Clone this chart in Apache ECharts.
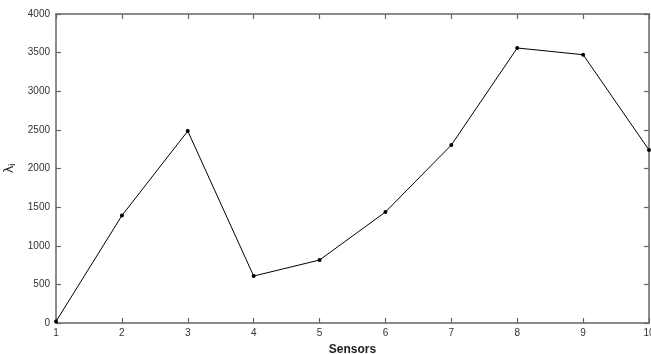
<!DOCTYPE html>
<html>
<head>
<meta charset="utf-8">
<script src="https://cdn.jsdelivr.net/npm/echarts@6/dist/echarts.min.js"></script>
<style>
html,body{margin:0;padding:0;background:#fff;}
#main{width:651px;height:354px;}
</style>
</head>
<body>
<div id="main"></div>
<script>
var sensors = [1, 2, 3, 4, 5, 6, 7, 8, 9, 10];
var lambdaVals = [20, 1390, 2485, 608, 815, 1437, 2304, 3560, 3473, 2240];

var points = [];
for (var i = 0; i < sensors.length; i++) {
    points.push([sensors[i], lambdaVals[i]]);
}

var myChart = echarts.init(document.getElementById('main'));

var axisLine = {show: true, onZero: false, lineStyle: {color: '#666', width: 1.5}};
var axisTick = {show: true, inside: true, length: 5, lineStyle: {color: '#666', width: 1.2}};
var labelStyle = {
    color: '#333', fontSize: 10, fontFamily: 'Liberation Sans',
    formatter: function (v) { return String(v); }
};

var option = {
    animation: false,
    backgroundColor: '#fff',
    grid: {left: 56, right: 2, top: 14, bottom: 31, containLabel: false, outerBoundsMode: 'none'},
    xAxis: [{
        type: 'value',
        min: 1,
        max: 10,
        interval: 1,
        name: 'Sensors',
        nameLocation: 'middle',
        nameGap: 21,
        nameTextStyle: {color: '#222', fontSize: 12, fontWeight: 'bold', fontFamily: 'Liberation Sans'},
        axisLine: axisLine,
        axisTick: axisTick,
        axisLabel: Object.assign({margin: 5}, labelStyle),
        splitLine: {show: false}
    }, {
        type: 'value',
        position: 'top',
        min: 1,
        max: 10,
        interval: 1,
        axisLine: axisLine,
        axisTick: axisTick,
        axisLabel: {show: false},
        splitLine: {show: false}
    }],
    yAxis: [{
        type: 'value',
        min: 0,
        max: 4000,
        interval: 500,
        name: '{a|λ}{b|i}',
        nameLocation: 'middle',
        nameGap: 37,
        nameRotate: 90,
        nameTextStyle: {
            rich: {
                a: {fontSize: 13, color: '#222', fontFamily: 'DejaVu Sans'},
                b: {fontSize: 9, color: '#222', fontFamily: 'Liberation Sans', padding: [6, 0, 0, 0]}
            }
        },
        axisLine: axisLine,
        axisTick: axisTick,
        axisLabel: Object.assign({margin: 6}, labelStyle),
        splitLine: {show: false}
    }, {
        type: 'value',
        position: 'right',
        min: 0,
        max: 4000,
        interval: 500,
        axisLine: axisLine,
        axisTick: axisTick,
        axisLabel: {show: false},
        splitLine: {show: false}
    }],
    series: [{
        type: 'line',
        data: points,
        symbol: 'circle',
        symbolSize: 4,
        lineStyle: {color: '#000', width: 1},
        itemStyle: {color: '#000'}
    }]
};
myChart.setOption(option);
</script>
</body>
</html>
